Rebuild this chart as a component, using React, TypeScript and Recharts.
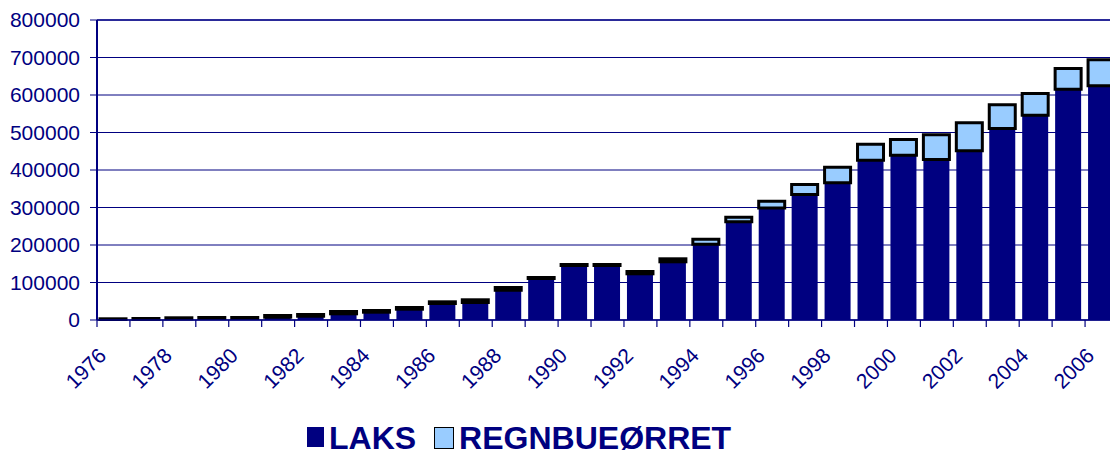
import { BarChart, Bar, XAxis, YAxis, CartesianGrid, Legend, ReferenceLine } from "recharts";

const years = [
  1976, 1977, 1978, 1979, 1980, 1981, 1982, 1983, 1984, 1985, 1986, 1987, 1988, 1989, 1990, 1991,
  1992, 1993, 1994, 1995, 1996, 1997, 1998, 1999, 2000, 2001, 2002, 2003, 2004, 2005, 2006,
];

const laks = [
  1400, 2000, 3000, 4000, 4200, 7500, 10100, 16500, 20800, 28800, 44000, 46700, 79500, 110700,
  145300, 145300, 123200, 155200, 202100, 261900, 299000, 334700, 365900, 426100, 439500, 428000,
  451200, 510700, 546100, 615500, 624500,
];

const regnbueorret = [
  1800, 2000, 2900, 2700, 2500, 4500, 4600, 6200, 4500, 4500, 4500, 7200, 7200, 2600, 2700, 2700,
  6200, 8000, 13400, 12200, 18000, 26600, 41600, 42700, 41800, 65900, 74700, 63200, 57900, 55200,
  69400,
];

const yTicks = [0, 100000, 200000, 300000, 400000, 500000, 600000, 700000, 800000];

const NAVY = "#000080";
const LIGHT = "#99CCFF";

const CHART_W = 1130;
const Y_AXIS_W = 97;
const RIGHT = 12;
const PLOT_W = CHART_W - Y_AXIS_W - RIGHT;
const BAND = PLOT_W / years.length;

const data = years.map((year, i) => ({
  year,
  LAKS: laks[i],
  "REGNBUEØRRET": regnbueorret[i],
}));

function YearTick(props: any) {
  const { x, y, payload } = props;
  const left = x - BAND / 2;
  const axisY = y - 7;
  const tx = x - 6;
  const ty = y + 30;
  return (
    <g>
      <line x1={left} x2={left} y1={axisY} y2={axisY + 7} stroke={NAVY} strokeWidth={1.2} />
      {payload.value % 2 === 0 && (
        <text
          x={tx}
          y={ty}
          textAnchor="end"
          transform={`rotate(-45 ${tx} ${ty})`}
          fill={NAVY}
          fontSize={21}
        >
          {payload.value}
        </text>
      )}
    </g>
  );
}

function LegendBox() {
  const label = { fontSize: 32, fontWeight: 700, color: NAVY, lineHeight: "33px" };
  return (
    <div style={{ display: "flex", alignItems: "flex-start", paddingLeft: 307, paddingTop: 5 }}>
      <div style={{ width: 17, height: 20, background: NAVY, marginTop: 5 }} />
      <span style={{ ...label, marginLeft: 5 }}>LAKS</span>
      <div
        style={{
          width: 18,
          height: 20,
          background: LIGHT,
          border: "1.5px solid #000",
          marginLeft: 18,
          marginTop: 5,
        }}
      />
      <span style={{ ...label, marginLeft: 5 }}>REGNBUEØRRET</span>
    </div>
  );
}

export default function App() {
  return (
    <div
      style={{
        position: "absolute",
        left: 0,
        top: 0,
        width: 1110,
        height: 457,
        overflow: "hidden",
        background: "#fff",
        fontFamily: "'Liberation Sans', Arial, sans-serif",
      }}
    >
      <BarChart
        width={CHART_W}
        height={457}
        data={data}
        margin={{ top: 20, right: RIGHT, left: 0, bottom: 0 }}
      >
        <CartesianGrid vertical={false} stroke={NAVY} strokeWidth={1} />
        <ReferenceLine y={800000} stroke="#2a2a99" strokeWidth={2} />
        <XAxis
          dataKey="year"
          interval={0}
          height={97}
          tickLine={false}
          tickSize={7}
          tickMargin={0}
          axisLine={{ stroke: NAVY, strokeWidth: 1.5 }}
          tick={<YearTick />}
        />
        <YAxis
          width={Y_AXIS_W}
          domain={[0, 800000]}
          ticks={yTicks}
          interval={0}
          tickSize={7}
          tickMargin={10}
          tick={{ fill: NAVY, fontSize: 21 }}
          tickLine={{ stroke: NAVY }}
          axisLine={{ stroke: NAVY, strokeWidth: 2 }}
        />
        <Legend verticalAlign="bottom" height={40} wrapperStyle={{ left: 0, width: CHART_W }} content={<LegendBox />} />
        <Bar dataKey="LAKS" stackId="a" fill={NAVY} barSize={26} isAnimationActive={false} />
        <Bar
          dataKey="REGNBUEØRRET"
          stackId="a"
          fill={LIGHT}
          stroke="#000"
          strokeWidth={3}
          barSize={26}
          isAnimationActive={false}
        />
      </BarChart>
    </div>
  );
}
